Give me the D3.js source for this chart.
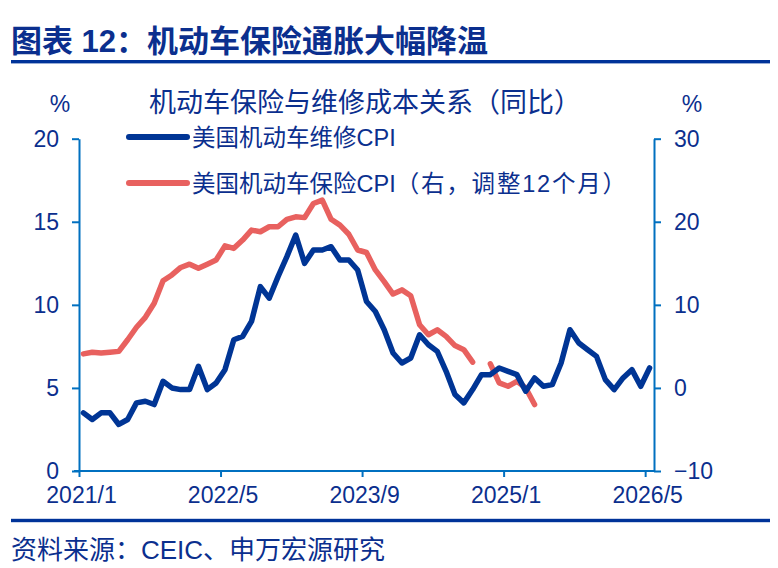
<!DOCTYPE html>
<html><head><meta charset="utf-8">
<script src="https://cdn.jsdelivr.net/npm/d3@7"></script>
<style>body{margin:0;background:#fff}svg{display:block}</style>
</head><body>
<svg id="c" width="778" height="568"></svg>
<script>
// ---- data ----
const tickLabels = ["2021/1", "2022/5", "2023/9", "2025/1", "2026/5"];
const tickMonths = [0, 16, 32, 48, 64];          // months since 2021/1
const leftTicks = [0, 5, 10, 15, 20];
const rightTicks = [-10, 0, 10, 20, 30];
// 美国机动车维修CPI (left axis), monthly from 2021/1
const repairCPI = [3.5, 3.1, 3.5, 3.5, 2.8, 3.1, 4.1, 4.2, 4.0, 5.4, 5.0, 4.9, 4.9, 6.3, 4.9, 5.3,
  6.1, 7.9, 8.1, 9.0, 11.1, 10.4, 11.7, 12.9, 14.2, 12.5, 13.3, 13.3, 13.5, 12.7, 12.7, 12.1,
  10.2, 9.6, 8.5, 7.1, 6.5, 6.8, 8.2, 7.6, 7.2, 6.0, 4.6, 4.1, 4.9, 5.8, 5.8, 6.2,
  6.0, 5.8, 4.8, 5.6, 5.1, 5.2, 6.5, 8.5, 7.7, 7.3, 6.9, 5.5, 4.9, 5.6, 6.1, 5.1, 6.2];
// 美国机动车保险CPI (right axis, shifted 12 months), monthly from 2021/1
const insuranceCPI = [4.1, 4.3, 4.2, 4.3, 4.4, 5.8, 7.3, 8.5, 10.2, 12.9, 13.6, 14.5, 14.9, 14.4, 14.9, 15.4,
  17.1, 16.8, 17.8, 19.0, 18.8, 19.4, 19.4, 20.3, 20.6, 20.5, 22.2, 22.6, 20.3, 19.6, 18.5, 16.6,
  16.3, 14.2, 12.8, 11.3, 11.8, 11.1, 7.6, 6.4, 7.0, 6.2, 5.1, 4.6, 3.1, null, 2.9, 0.6,
  0.2, 0.8, 0.0, -2.0];

// ---- style ----
const FONT = "'Liberation Sans', Arial, 'Noto Sans CJK SC', sans-serif";
const TXT = "#0B2F8E", AX = "#0070C0", BLUE = "#003595", RED = "#E8615F";

const svg = d3.select("#c");
const x = d3.scaleLinear().domain([0, 65]).range([79, 654]);
const yL = d3.scaleLinear().domain([0, 20]).range([471, 138.7]);
const yR = d3.scaleLinear().domain([-10, 30]).range([471, 138.7]);

// title
svg.append("text").attr("x", 11).attr("y", 52).attr("font-family", FONT)
  .attr("font-size", 31).attr("font-weight", "bold").attr("fill", TXT)
  .text("图表 12：机动车保险通胀大幅降温");
svg.append("rect").attr("x", 11).attr("y", 60).attr("width", 759).attr("height", 3.4).attr("fill", "#003399");
svg.append("rect").attr("x", 11).attr("y", 518.8).attr("width", 759).attr("height", 3.4).attr("fill", "#003399");
svg.append("text").attr("x", 11).attr("y", 559).attr("font-family", FONT)
  .attr("font-size", 26).attr("fill", TXT).text("资料来源：CEIC、申万宏源研究");

// subtitle and units
svg.append("text").attr("x", 365).attr("y", 112).attr("text-anchor", "middle").attr("font-family", FONT)
  .attr("font-size", 27).attr("fill", TXT).text("机动车保险与维修成本关系（同比）");
svg.append("text").attr("x", 60).attr("y", 112).attr("text-anchor", "middle").attr("font-family", FONT)
  .attr("font-size", 23).attr("fill", TXT).text("%");
svg.append("text").attr("x", 692).attr("y", 112).attr("text-anchor", "middle").attr("font-family", FONT)
  .attr("font-size", 23).attr("fill", TXT).text("%");

// axes
function styleAxis(g) {
  g.selectAll("path,line").attr("stroke", AX).attr("stroke-width", 2);
  g.selectAll("text").attr("fill", TXT).attr("font-family", FONT).attr("font-size", 23);
}
const gx = svg.append("g").attr("transform", "translate(0,471)")
  .call(d3.axisBottom(x).tickValues(tickMonths).tickFormat((d, i) => tickLabels[i]).tickSizeInner(6).tickSizeOuter(0).tickPadding(10));
styleAxis(gx);
gx.selectAll("text").attr("dx", 2);
gx.select(".domain").attr("d", `M${x(0) - 5},0H${x(65)}`);

const gl = svg.append("g").attr("transform", `translate(${x(0)},0)`)
  .call(d3.axisLeft(yL).tickValues(leftTicks).tickSizeInner(7).tickSizeOuter(0).tickPadding(13));
styleAxis(gl);
const gr = svg.append("g").attr("transform", `translate(${x(65)},0)`)
  .call(d3.axisRight(yR).tickValues(rightTicks).tickSizeInner(7).tickSizeOuter(0).tickPadding(13));
styleAxis(gr);

// lines
const lineL = d3.line().x((d, i) => x(i + 0.5)).y(d => yL(d));
const lineR = d3.line().defined(d => d !== null).x((d, i) => x(i + 0.5)).y(d => yR(d));
svg.append("path").attr("d", lineR(insuranceCPI)).attr("fill", "none").attr("stroke", RED)
  .attr("stroke-width", 5.5).attr("stroke-linejoin", "round").attr("stroke-linecap", "round");
svg.append("path").attr("d", lineL(repairCPI)).attr("fill", "none").attr("stroke", BLUE)
  .attr("stroke-width", 5.5).attr("stroke-linejoin", "round").attr("stroke-linecap", "round");

// legend
const legend = [
  { name: "美国机动车维修CPI", note: "", color: BLUE, y: 137 },
  { name: "美国机动车保险CPI", note: "（右，调整12个月）", color: RED, y: 183 }
];
legend.forEach(l => {
  svg.append("line").attr("x1", 129).attr("x2", 187).attr("y1", l.y).attr("y2", l.y)
    .attr("stroke", l.color).attr("stroke-width", 6).attr("stroke-linecap", "round");
  const t = svg.append("text").attr("x", 192).attr("y", l.y + 8.5).attr("font-family", FONT)
    .attr("font-size", 23.5).attr("fill", TXT);
  t.append("tspan").text(l.name);
  if (l.note) t.append("tspan").attr("letter-spacing", 1.8).text(l.note);
});
</script>
</body></html>
